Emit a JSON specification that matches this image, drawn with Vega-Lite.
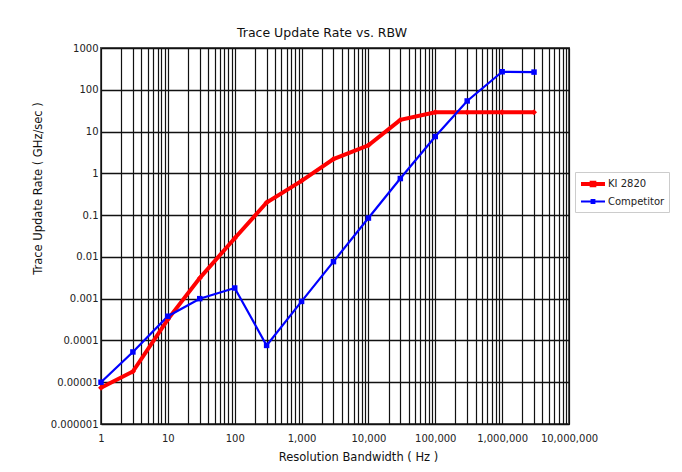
{
  "$schema": "https://vega.github.io/schema/vega-lite/v6.json",
  "autosize": {"type": "none"},
  "padding": {"left": 101, "top": 48, "right": 113, "bottom": 48},
  "width": 468,
  "height": 376,
  "background": "white",
  "title": {"text": "Trace Update Rate vs. RBW", "font": "DejaVu Sans", "fontSize": 12.5, "fontWeight": "normal", "color": "#111", "dx": -13, "offset": 4},
  "config": {
    "view": {"stroke": "#555", "strokeWidth": 2},
    "font": "DejaVu Sans"
  },
  "data": {"values": [
    {"rbw": 1, "rate": 0.0000074, "series": "KI 2820"},
    {"rbw": 3, "rate": 0.000018, "series": "KI 2820"},
    {"rbw": 10, "rate": 0.00032, "series": "KI 2820"},
    {"rbw": 30, "rate": 0.0031, "series": "KI 2820"},
    {"rbw": 100, "rate": 0.028, "series": "KI 2820"},
    {"rbw": 300, "rate": 0.2, "series": "KI 2820"},
    {"rbw": 1000, "rate": 0.66, "series": "KI 2820"},
    {"rbw": 3000, "rate": 2.2, "series": "KI 2820"},
    {"rbw": 10000, "rate": 4.7, "series": "KI 2820"},
    {"rbw": 30000, "rate": 19, "series": "KI 2820"},
    {"rbw": 100000, "rate": 29, "series": "KI 2820"},
    {"rbw": 300000, "rate": 29, "series": "KI 2820"},
    {"rbw": 1000000, "rate": 29, "series": "KI 2820"},
    {"rbw": 3000000, "rate": 29, "series": "KI 2820"},
    {"rbw": 1, "rate": 0.00001, "series": "Competitor"},
    {"rbw": 3, "rate": 0.000053, "series": "Competitor"},
    {"rbw": 10, "rate": 0.00038, "series": "Competitor"},
    {"rbw": 30, "rate": 0.001, "series": "Competitor"},
    {"rbw": 100, "rate": 0.0018, "series": "Competitor"},
    {"rbw": 300, "rate": 0.000076, "series": "Competitor"},
    {"rbw": 1000, "rate": 0.00086, "series": "Competitor"},
    {"rbw": 3000, "rate": 0.0077, "series": "Competitor"},
    {"rbw": 10000, "rate": 0.085, "series": "Competitor"},
    {"rbw": 30000, "rate": 0.75, "series": "Competitor"},
    {"rbw": 100000, "rate": 7.6, "series": "Competitor"},
    {"rbw": 300000, "rate": 54, "series": "Competitor"},
    {"rbw": 1000000, "rate": 270, "series": "Competitor"},
    {"rbw": 3000000, "rate": 265, "series": "Competitor"}
  ]},
  "encoding": {
    "x": {
      "field": "rbw", "type": "quantitative",
      "scale": {"type": "log", "domain": [1, 10000000], "nice": false},
      "axis": {
        "title": "Resolution Bandwidth ( Hz )",
        "titleFont": "DejaVu Sans", "titleFontSize": 11.5, "titleFontWeight": "normal", "titleColor": "#111",
        "titleX": 257, "titleY": 27, "titleBaseline": "top",
        "values": [1,2,3,4,5,6,7,8,9,10,20,30,40,50,60,70,80,90,100,200,300,400,500,600,700,800,900,1000,2000,3000,4000,5000,6000,7000,8000,9000,10000,20000,30000,40000,50000,60000,70000,80000,90000,100000,200000,300000,400000,500000,600000,700000,800000,900000,1000000,2000000,3000000,4000000,5000000,6000000,7000000,8000000,9000000,10000000],
        "labelExpr": "indexof([1,10,100,1000,10000,100000,1000000,10000000], datum.value) >= 0 ? format(datum.value, ',') : ''",
        "labelFontSize": 10, "labelColor": "#222", "labelPadding": 9, "labelFlush": false, "labelOverlap": false,
        "ticks": false, "domain": false,
        "grid": true, "gridColor": "#111", "gridWidth": 1.2, "gridOpacity": 1
      }
    },
    "y": {
      "field": "rate", "type": "quantitative",
      "scale": {"type": "log", "domain": [0.000001, 1000], "nice": false},
      "axis": {
        "title": "Trace Update Rate ( GHz/sec )",
        "titleFont": "DejaVu Sans", "titleFontSize": 11.5, "titleFontWeight": "normal", "titleColor": "#111",
        "titleX": -58, "titleY": 140,
        "values": [0.000001, 0.00001, 0.0001, 0.001, 0.01, 0.1, 1, 10, 100, 1000],
        "format": "~f",
        "labelFontSize": 10, "labelColor": "#222", "labelPadding": 3, "labelFlush": false, "labelOverlap": false,
        "ticks": false, "domain": false,
        "grid": true, "gridColor": "#111", "gridWidth": 1.4, "gridOpacity": 1
      }
    }
  },
  "layer": [
    {
      "mark": {"type": "line", "clip": true},
      "encoding": {
        "color": {
          "field": "series", "type": "nominal",
          "scale": {"domain": ["KI 2820", "Competitor"], "range": ["#ff0000", "#0000ff"]},
          "legend": {
            "title": null, "orient": "none", "legendX": 474, "legendY": 124,
            "strokeColor": "#ccc", "padding": 4, "fillColor": "white",
            "labelFontSize": 10, "labelColor": "#222", "labelOffset": 7, "rowPadding": 0,
            "symbolType": "M-2,0H2M-0.22,-0.22H0.22V0.22H-0.22Z",
            "symbolSize": 144, "symbolStrokeWidth": 2.5, "symbolOffset": 6,
            "encode": {"symbols": {"update": {"fill": {"scale": "color", "field": "value"}}}}
          }
        },
        "strokeWidth": {"field": "series", "type": "nominal", "scale": {"domain": ["KI 2820", "Competitor"], "range": [4, 2.2]}, "legend": null}
      }
    },
    {
      "transform": [{"filter": "datum.series === 'KI 2820'"}],
      "mark": {"type": "point", "filled": true, "opacity": 1, "shape": "diamond", "color": "#ff0000", "size": 35}
    },
    {
      "transform": [{"filter": "datum.series === 'Competitor'"}],
      "mark": {"type": "point", "filled": true, "opacity": 1, "shape": "square", "color": "#0000ff", "size": 30}
    }
  ]
}
